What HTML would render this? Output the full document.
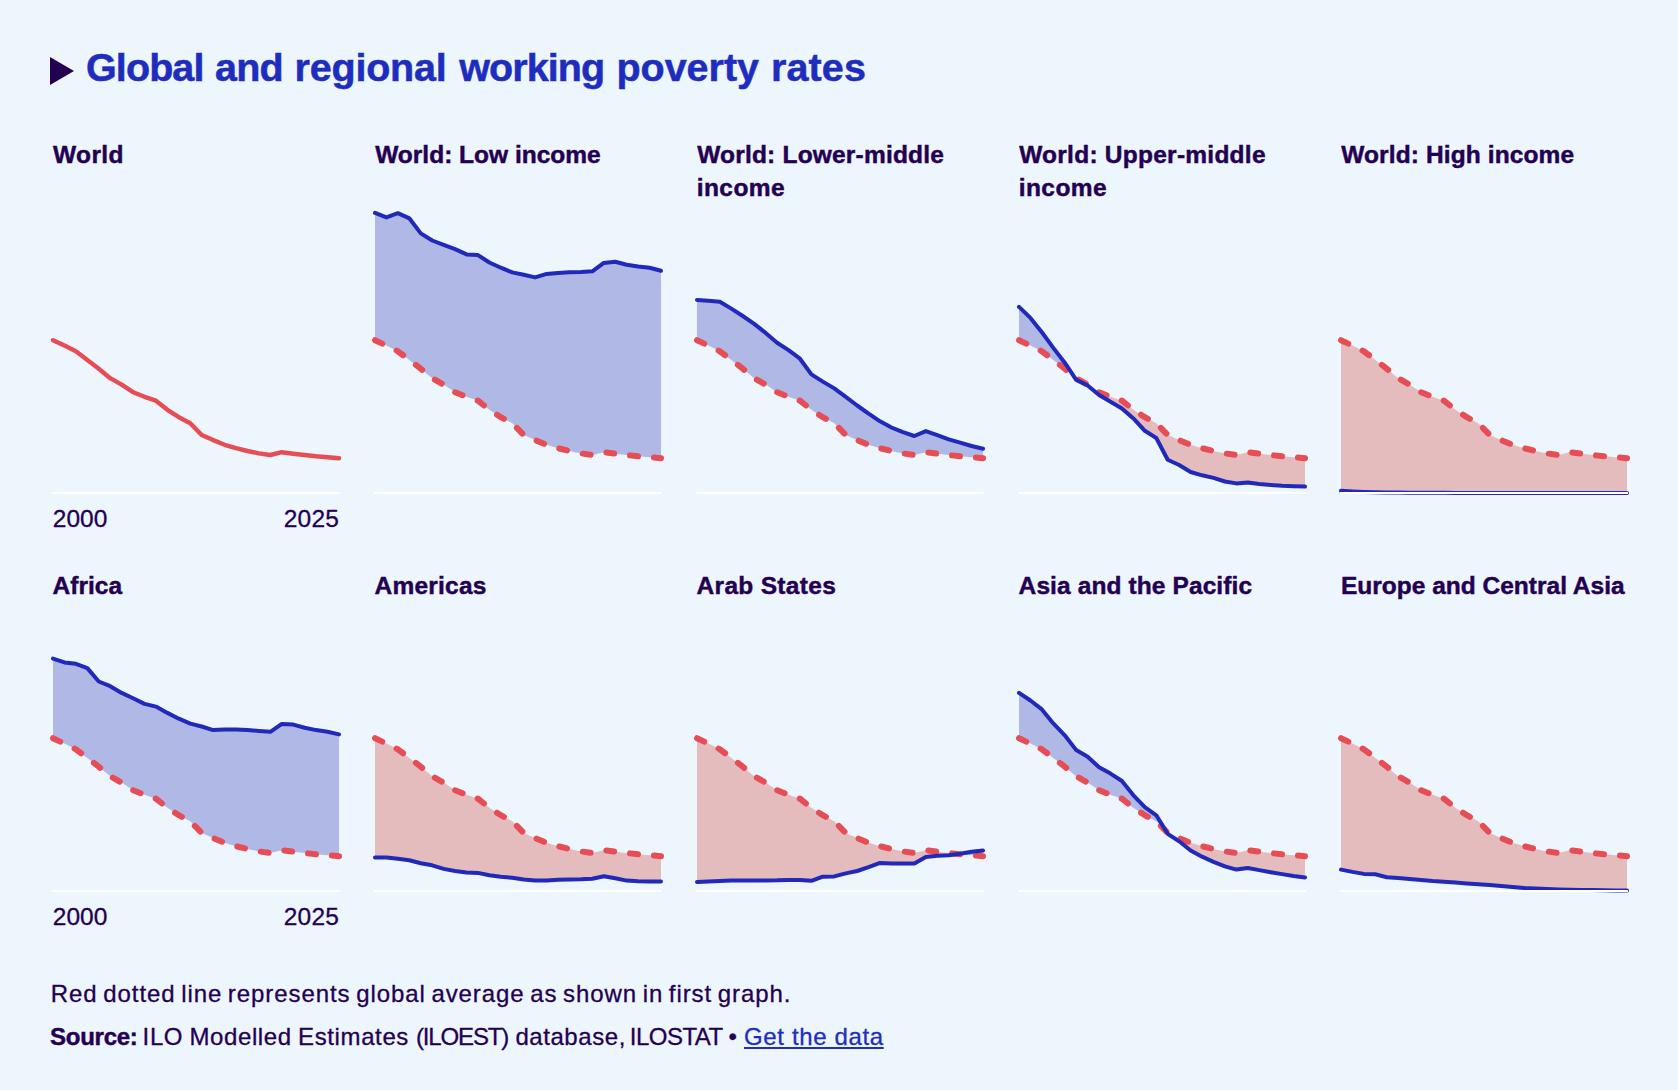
<!DOCTYPE html>
<html lang="en"><head><meta charset="utf-8"><title>Global and regional working poverty rates</title>
<style>
html,body{margin:0;padding:0;}
body{width:1678px;height:1090px;background:#EDF5FD;overflow:hidden;position:relative;font-family:"Liberation Sans",sans-serif;color:#230050;}
svg{position:absolute;left:0;top:0;}
.t{position:absolute;white-space:nowrap;line-height:1;}
a{color:#1E2DBE;text-decoration:underline;}
</style></head><body>
<svg width="1678" height="1090" viewBox="0 0 1678 1090">

<polygon points="50,57 50,85 74,71" fill="#230050"/>
<g>
<polyline points="53.00,340.20 64.44,345.60 75.88,351.30 87.32,359.90 98.76,368.70 110.20,378.20 121.64,384.60 133.08,392.20 144.52,396.80 155.96,400.70 167.40,409.80 178.84,417.20 190.28,423.20 201.72,435.00 213.16,440.10 224.60,444.80 236.04,448.20 247.48,451.00 258.92,453.40 270.36,455.00 281.80,452.20 293.24,453.70 304.68,455.00 316.12,456.30 327.56,457.20 339.00,458.20" fill="none" stroke="#E64D55" stroke-width="4.4" stroke-linecap="round" stroke-linejoin="round"/>
<rect x="52" y="492" width="288" height="2" fill="#ffffff"/>
</g>
<g>
<polygon points="375.00,212.90 386.44,217.40 397.88,213.20 409.32,218.30 420.76,233.40 432.20,240.50 443.64,244.80 455.08,249.10 466.52,254.40 477.96,255.10 489.40,262.50 500.84,267.70 512.28,272.40 523.72,274.80 535.16,277.40 546.60,273.90 558.04,272.90 569.48,272.30 580.92,272.00 592.36,271.30 603.80,262.90 615.24,261.70 626.68,264.80 638.12,266.40 649.56,267.70 661.00,270.70 661.00,458.20 649.56,457.20 638.12,456.30 626.68,455.00 615.24,453.70 603.80,452.20 592.36,455.00 580.92,453.40 569.48,451.00 558.04,448.20 546.60,444.80 535.16,440.10 523.72,435.00 512.28,423.20 500.84,417.20 489.40,409.80 477.96,400.70 466.52,396.80 455.08,392.20 443.64,384.60 432.20,378.20 420.76,368.70 409.32,359.90 397.88,351.30 386.44,345.60 375.00,340.20" fill="#B0B8E6"/>
<polyline points="375.00,340.20 386.44,345.60 397.88,351.30 409.32,359.90 420.76,368.70 432.20,378.20 443.64,384.60 455.08,392.20 466.52,396.80 477.96,400.70 489.40,409.80 500.84,417.20 512.28,423.20 523.72,435.00 535.16,440.10 546.60,444.80 558.04,448.20 569.48,451.00 580.92,453.40 592.36,455.00 603.80,452.20 615.24,453.70 626.68,455.00 638.12,456.30 649.56,457.20 661.00,458.20" fill="none" stroke="#E64D55" stroke-width="6" stroke-dasharray="8 16" stroke-linecap="round" stroke-linejoin="round"/>
<polyline points="375.00,212.90 386.44,217.40 397.88,213.20 409.32,218.30 420.76,233.40 432.20,240.50 443.64,244.80 455.08,249.10 466.52,254.40 477.96,255.10 489.40,262.50 500.84,267.70 512.28,272.40 523.72,274.80 535.16,277.40 546.60,273.90 558.04,272.90 569.48,272.30 580.92,272.00 592.36,271.30 603.80,262.90 615.24,261.70 626.68,264.80 638.12,266.40 649.56,267.70 661.00,270.70" fill="none" stroke="#2029B9" stroke-width="4" stroke-linecap="round" stroke-linejoin="round"/>
<rect x="374" y="492" width="288" height="2" fill="#ffffff"/>
</g>
<g>
<polygon points="697.00,300.00 708.44,300.80 719.88,301.70 731.32,308.60 742.76,316.00 754.20,323.90 765.64,332.90 777.08,342.70 788.52,350.10 799.96,358.70 811.40,374.40 822.84,381.60 834.28,388.40 845.72,396.90 857.16,405.50 868.60,413.60 880.04,421.30 891.48,427.50 902.92,432.20 914.36,436.00 925.80,431.10 937.24,435.10 948.68,439.40 960.12,442.70 971.56,446.00 983.00,448.70 983.00,458.20 971.56,457.20 960.12,456.30 948.68,455.00 937.24,453.70 925.80,452.20 914.36,455.00 902.92,453.40 891.48,451.00 880.04,448.20 868.60,444.80 857.16,440.10 845.72,435.00 834.28,423.20 822.84,417.20 811.40,409.80 799.96,400.70 788.52,396.80 777.08,392.20 765.64,384.60 754.20,378.20 742.76,368.70 731.32,359.90 719.88,351.30 708.44,345.60 697.00,340.20" fill="#B0B8E6"/>
<polyline points="697.00,340.20 708.44,345.60 719.88,351.30 731.32,359.90 742.76,368.70 754.20,378.20 765.64,384.60 777.08,392.20 788.52,396.80 799.96,400.70 811.40,409.80 822.84,417.20 834.28,423.20 845.72,435.00 857.16,440.10 868.60,444.80 880.04,448.20 891.48,451.00 902.92,453.40 914.36,455.00 925.80,452.20 937.24,453.70 948.68,455.00 960.12,456.30 971.56,457.20 983.00,458.20" fill="none" stroke="#E64D55" stroke-width="6" stroke-dasharray="8 16" stroke-linecap="round" stroke-linejoin="round"/>
<polyline points="697.00,300.00 708.44,300.80 719.88,301.70 731.32,308.60 742.76,316.00 754.20,323.90 765.64,332.90 777.08,342.70 788.52,350.10 799.96,358.70 811.40,374.40 822.84,381.60 834.28,388.40 845.72,396.90 857.16,405.50 868.60,413.60 880.04,421.30 891.48,427.50 902.92,432.20 914.36,436.00 925.80,431.10 937.24,435.10 948.68,439.40 960.12,442.70 971.56,446.00 983.00,448.70" fill="none" stroke="#2029B9" stroke-width="4" stroke-linecap="round" stroke-linejoin="round"/>
<rect x="696" y="492" width="288" height="2" fill="#ffffff"/>
</g>
<g>
<polygon points="1019.00,306.90 1030.44,317.90 1041.88,332.20 1053.32,347.90 1064.76,362.70 1073.67,376.10 1073.67,376.10 1064.76,368.70 1053.32,359.90 1041.88,351.30 1030.44,345.60 1019.00,340.20" fill="#B0B8E6"/>
<polygon points="1073.67,376.10 1076.20,379.90 1087.64,385.50 1099.08,395.00 1110.52,401.70 1121.96,408.40 1133.40,418.40 1144.84,430.80 1156.28,438.00 1167.72,459.80 1179.16,465.00 1190.60,472.00 1202.04,475.30 1213.48,477.90 1224.92,481.50 1236.36,483.40 1247.80,482.50 1259.24,483.90 1270.68,484.90 1282.12,485.80 1293.56,486.30 1305.00,486.60 1305.00,458.20 1293.56,457.20 1282.12,456.30 1270.68,455.00 1259.24,453.70 1247.80,452.20 1236.36,455.00 1224.92,453.40 1213.48,451.00 1202.04,448.20 1190.60,444.80 1179.16,440.10 1167.72,435.00 1156.28,423.20 1144.84,417.20 1133.40,409.80 1121.96,400.70 1110.52,396.80 1099.08,392.20 1087.64,384.60 1076.20,378.20 1073.67,376.10" fill="#E4BCBE"/>
<polyline points="1019.00,340.20 1030.44,345.60 1041.88,351.30 1053.32,359.90 1064.76,368.70 1076.20,378.20 1087.64,384.60 1099.08,392.20 1110.52,396.80 1121.96,400.70 1133.40,409.80 1144.84,417.20 1156.28,423.20 1167.72,435.00 1179.16,440.10 1190.60,444.80 1202.04,448.20 1213.48,451.00 1224.92,453.40 1236.36,455.00 1247.80,452.20 1259.24,453.70 1270.68,455.00 1282.12,456.30 1293.56,457.20 1305.00,458.20" fill="none" stroke="#E64D55" stroke-width="6" stroke-dasharray="8 16" stroke-linecap="round" stroke-linejoin="round"/>
<polyline points="1019.00,306.90 1030.44,317.90 1041.88,332.20 1053.32,347.90 1064.76,362.70 1076.20,379.90 1087.64,385.50 1099.08,395.00 1110.52,401.70 1121.96,408.40 1133.40,418.40 1144.84,430.80 1156.28,438.00 1167.72,459.80 1179.16,465.00 1190.60,472.00 1202.04,475.30 1213.48,477.90 1224.92,481.50 1236.36,483.40 1247.80,482.50 1259.24,483.90 1270.68,484.90 1282.12,485.80 1293.56,486.30 1305.00,486.60" fill="none" stroke="#2029B9" stroke-width="4" stroke-linecap="round" stroke-linejoin="round"/>
<rect x="1018" y="492" width="288" height="2" fill="#ffffff"/>
</g>
<g>
<polygon points="1341.00,490.80 1352.44,491.50 1363.88,492.00 1375.32,492.30 1386.76,492.50 1398.20,492.60 1409.64,492.70 1421.08,492.70 1432.52,492.80 1443.96,492.80 1455.40,492.90 1466.84,492.90 1478.28,492.90 1489.72,492.90 1501.16,493.00 1512.60,493.00 1524.04,493.00 1535.48,493.00 1546.92,493.00 1558.36,493.00 1569.80,493.00 1581.24,493.00 1592.68,493.00 1604.12,493.00 1615.56,493.00 1627.00,493.00 1627.00,458.20 1615.56,457.20 1604.12,456.30 1592.68,455.00 1581.24,453.70 1569.80,452.20 1558.36,455.00 1546.92,453.40 1535.48,451.00 1524.04,448.20 1512.60,444.80 1501.16,440.10 1489.72,435.00 1478.28,423.20 1466.84,417.20 1455.40,409.80 1443.96,400.70 1432.52,396.80 1421.08,392.20 1409.64,384.60 1398.20,378.20 1386.76,368.70 1375.32,359.90 1363.88,351.30 1352.44,345.60 1341.00,340.20" fill="#E4BCBE"/>
<polyline points="1341.00,340.20 1352.44,345.60 1363.88,351.30 1375.32,359.90 1386.76,368.70 1398.20,378.20 1409.64,384.60 1421.08,392.20 1432.52,396.80 1443.96,400.70 1455.40,409.80 1466.84,417.20 1478.28,423.20 1489.72,435.00 1501.16,440.10 1512.60,444.80 1524.04,448.20 1535.48,451.00 1546.92,453.40 1558.36,455.00 1569.80,452.20 1581.24,453.70 1592.68,455.00 1604.12,456.30 1615.56,457.20 1627.00,458.20" fill="none" stroke="#E64D55" stroke-width="6" stroke-dasharray="8 16" stroke-linecap="round" stroke-linejoin="round"/>
<polyline points="1341.00,490.80 1352.44,491.50 1363.88,492.00 1375.32,492.30 1386.76,492.50 1398.20,492.60 1409.64,492.70 1421.08,492.70 1432.52,492.80 1443.96,492.80 1455.40,492.90 1466.84,492.90 1478.28,492.90 1489.72,492.90 1501.16,493.00 1512.60,493.00 1524.04,493.00 1535.48,493.00 1546.92,493.00 1558.36,493.00 1569.80,493.00 1581.24,493.00 1592.68,493.00 1604.12,493.00 1615.56,493.00 1627.00,493.00" fill="none" stroke="#2029B9" stroke-width="4" stroke-linecap="round" stroke-linejoin="round"/>
<rect x="1340" y="492" width="288" height="2" fill="#ffffff"/>
</g>
<g>
<polygon points="53.00,658.60 64.44,662.40 75.88,663.80 87.32,668.10 98.76,681.50 110.20,686.20 121.64,692.90 133.08,698.20 144.52,703.90 155.96,706.60 167.40,712.90 178.84,718.70 190.28,723.60 201.72,726.50 213.16,730.10 224.60,729.60 236.04,729.40 247.48,730.10 258.92,731.00 270.36,731.80 281.80,723.90 293.24,724.60 304.68,727.70 316.12,730.10 327.56,731.80 339.00,734.40 339.00,856.20 327.56,855.20 316.12,854.30 304.68,853.00 293.24,851.70 281.80,850.20 270.36,853.00 258.92,851.40 247.48,849.00 236.04,846.20 224.60,842.80 213.16,838.10 201.72,833.00 190.28,821.20 178.84,815.20 167.40,807.80 155.96,798.70 144.52,794.80 133.08,790.20 121.64,782.60 110.20,776.20 98.76,766.70 87.32,757.90 75.88,749.30 64.44,743.60 53.00,738.20" fill="#B0B8E6"/>
<polyline points="53.00,738.20 64.44,743.60 75.88,749.30 87.32,757.90 98.76,766.70 110.20,776.20 121.64,782.60 133.08,790.20 144.52,794.80 155.96,798.70 167.40,807.80 178.84,815.20 190.28,821.20 201.72,833.00 213.16,838.10 224.60,842.80 236.04,846.20 247.48,849.00 258.92,851.40 270.36,853.00 281.80,850.20 293.24,851.70 304.68,853.00 316.12,854.30 327.56,855.20 339.00,856.20" fill="none" stroke="#E64D55" stroke-width="6" stroke-dasharray="8 16" stroke-linecap="round" stroke-linejoin="round"/>
<polyline points="53.00,658.60 64.44,662.40 75.88,663.80 87.32,668.10 98.76,681.50 110.20,686.20 121.64,692.90 133.08,698.20 144.52,703.90 155.96,706.60 167.40,712.90 178.84,718.70 190.28,723.60 201.72,726.50 213.16,730.10 224.60,729.60 236.04,729.40 247.48,730.10 258.92,731.00 270.36,731.80 281.80,723.90 293.24,724.60 304.68,727.70 316.12,730.10 327.56,731.80 339.00,734.40" fill="none" stroke="#2029B9" stroke-width="4" stroke-linecap="round" stroke-linejoin="round"/>
<rect x="52" y="890" width="288" height="2" fill="#ffffff"/>
</g>
<g>
<polygon points="375.00,857.40 386.44,857.40 397.88,858.80 409.32,860.30 420.76,863.20 432.20,865.30 443.64,868.90 455.08,871.00 466.52,872.50 477.96,872.90 489.40,875.30 500.84,876.70 512.28,877.80 523.72,879.60 535.16,880.40 546.60,880.60 558.04,879.80 569.48,879.40 580.92,879.30 592.36,878.80 603.80,876.30 615.24,878.20 626.68,880.60 638.12,881.20 649.56,881.50 661.00,881.50 661.00,856.20 649.56,855.20 638.12,854.30 626.68,853.00 615.24,851.70 603.80,850.20 592.36,853.00 580.92,851.40 569.48,849.00 558.04,846.20 546.60,842.80 535.16,838.10 523.72,833.00 512.28,821.20 500.84,815.20 489.40,807.80 477.96,798.70 466.52,794.80 455.08,790.20 443.64,782.60 432.20,776.20 420.76,766.70 409.32,757.90 397.88,749.30 386.44,743.60 375.00,738.20" fill="#E4BCBE"/>
<polyline points="375.00,738.20 386.44,743.60 397.88,749.30 409.32,757.90 420.76,766.70 432.20,776.20 443.64,782.60 455.08,790.20 466.52,794.80 477.96,798.70 489.40,807.80 500.84,815.20 512.28,821.20 523.72,833.00 535.16,838.10 546.60,842.80 558.04,846.20 569.48,849.00 580.92,851.40 592.36,853.00 603.80,850.20 615.24,851.70 626.68,853.00 638.12,854.30 649.56,855.20 661.00,856.20" fill="none" stroke="#E64D55" stroke-width="6" stroke-dasharray="8 16" stroke-linecap="round" stroke-linejoin="round"/>
<polyline points="375.00,857.40 386.44,857.40 397.88,858.80 409.32,860.30 420.76,863.20 432.20,865.30 443.64,868.90 455.08,871.00 466.52,872.50 477.96,872.90 489.40,875.30 500.84,876.70 512.28,877.80 523.72,879.60 535.16,880.40 546.60,880.60 558.04,879.80 569.48,879.40 580.92,879.30 592.36,878.80 603.80,876.30 615.24,878.20 626.68,880.60 638.12,881.20 649.56,881.50 661.00,881.50" fill="none" stroke="#2029B9" stroke-width="4" stroke-linecap="round" stroke-linejoin="round"/>
<rect x="374" y="890" width="288" height="2" fill="#ffffff"/>
</g>
<g>
<polygon points="957.75,854.03 960.12,853.70 971.56,851.80 983.00,850.50 983.00,856.20 971.56,855.20 960.12,854.30 957.75,854.03" fill="#B0B8E6"/>
<polygon points="697.00,882.00 708.44,881.50 719.88,881.00 731.32,880.60 742.76,880.40 754.20,880.40 765.64,880.40 777.08,880.30 788.52,879.90 799.96,880.10 811.40,880.80 822.84,876.70 834.28,876.40 845.72,873.40 857.16,871.00 868.60,867.20 880.04,862.90 891.48,863.40 902.92,863.60 914.36,863.60 925.80,856.90 937.24,855.80 948.68,855.30 957.75,854.03 957.75,854.03 948.68,853.00 937.24,851.70 925.80,850.20 914.36,853.00 902.92,851.40 891.48,849.00 880.04,846.20 868.60,842.80 857.16,838.10 845.72,833.00 834.28,821.20 822.84,815.20 811.40,807.80 799.96,798.70 788.52,794.80 777.08,790.20 765.64,782.60 754.20,776.20 742.76,766.70 731.32,757.90 719.88,749.30 708.44,743.60 697.00,738.20" fill="#E4BCBE"/>
<polyline points="697.00,738.20 708.44,743.60 719.88,749.30 731.32,757.90 742.76,766.70 754.20,776.20 765.64,782.60 777.08,790.20 788.52,794.80 799.96,798.70 811.40,807.80 822.84,815.20 834.28,821.20 845.72,833.00 857.16,838.10 868.60,842.80 880.04,846.20 891.48,849.00 902.92,851.40 914.36,853.00 925.80,850.20 937.24,851.70 948.68,853.00 960.12,854.30 971.56,855.20 983.00,856.20" fill="none" stroke="#E64D55" stroke-width="6" stroke-dasharray="8 16" stroke-linecap="round" stroke-linejoin="round"/>
<polyline points="697.00,882.00 708.44,881.50 719.88,881.00 731.32,880.60 742.76,880.40 754.20,880.40 765.64,880.40 777.08,880.30 788.52,879.90 799.96,880.10 811.40,880.80 822.84,876.70 834.28,876.40 845.72,873.40 857.16,871.00 868.60,867.20 880.04,862.90 891.48,863.40 902.92,863.60 914.36,863.60 925.80,856.90 937.24,855.80 948.68,855.30 960.12,853.70 971.56,851.80 983.00,850.50" fill="none" stroke="#2029B9" stroke-width="4" stroke-linecap="round" stroke-linejoin="round"/>
<rect x="696" y="890" width="288" height="2" fill="#ffffff"/>
</g>
<g>
<polygon points="1019.00,692.90 1030.44,700.50 1041.88,709.40 1053.32,723.40 1064.76,735.30 1076.20,750.10 1087.64,756.80 1099.08,767.20 1110.52,773.60 1121.96,781.00 1133.40,795.30 1144.84,807.20 1156.28,815.30 1166.35,831.59 1166.35,831.59 1156.28,821.20 1144.84,815.20 1133.40,807.80 1121.96,798.70 1110.52,794.80 1099.08,790.20 1087.64,782.60 1076.20,776.20 1064.76,766.70 1053.32,757.90 1041.88,749.30 1030.44,743.60 1019.00,738.20" fill="#B0B8E6"/>
<polygon points="1166.35,831.59 1167.72,833.80 1179.16,841.30 1190.60,850.50 1202.04,856.70 1213.48,861.80 1224.92,866.30 1236.36,869.60 1247.80,868.00 1259.24,870.10 1270.68,872.20 1282.12,874.10 1293.56,876.00 1305.00,877.50 1305.00,856.20 1293.56,855.20 1282.12,854.30 1270.68,853.00 1259.24,851.70 1247.80,850.20 1236.36,853.00 1224.92,851.40 1213.48,849.00 1202.04,846.20 1190.60,842.80 1179.16,838.10 1167.72,833.00 1166.35,831.59" fill="#E4BCBE"/>
<polyline points="1019.00,738.20 1030.44,743.60 1041.88,749.30 1053.32,757.90 1064.76,766.70 1076.20,776.20 1087.64,782.60 1099.08,790.20 1110.52,794.80 1121.96,798.70 1133.40,807.80 1144.84,815.20 1156.28,821.20 1167.72,833.00 1179.16,838.10 1190.60,842.80 1202.04,846.20 1213.48,849.00 1224.92,851.40 1236.36,853.00 1247.80,850.20 1259.24,851.70 1270.68,853.00 1282.12,854.30 1293.56,855.20 1305.00,856.20" fill="none" stroke="#E64D55" stroke-width="6" stroke-dasharray="8 16" stroke-linecap="round" stroke-linejoin="round"/>
<polyline points="1019.00,692.90 1030.44,700.50 1041.88,709.40 1053.32,723.40 1064.76,735.30 1076.20,750.10 1087.64,756.80 1099.08,767.20 1110.52,773.60 1121.96,781.00 1133.40,795.30 1144.84,807.20 1156.28,815.30 1167.72,833.80 1179.16,841.30 1190.60,850.50 1202.04,856.70 1213.48,861.80 1224.92,866.30 1236.36,869.60 1247.80,868.00 1259.24,870.10 1270.68,872.20 1282.12,874.10 1293.56,876.00 1305.00,877.50" fill="none" stroke="#2029B9" stroke-width="4" stroke-linecap="round" stroke-linejoin="round"/>
<rect x="1018" y="890" width="288" height="2" fill="#ffffff"/>
</g>
<g>
<polygon points="1341.00,869.60 1352.44,871.90 1363.88,873.90 1375.32,874.30 1386.76,877.20 1398.20,878.10 1409.64,879.10 1421.08,880.00 1432.52,881.00 1443.96,881.70 1455.40,882.40 1466.84,883.40 1478.28,884.30 1489.72,885.00 1501.16,886.10 1512.60,887.00 1524.04,887.90 1535.48,888.40 1546.92,889.00 1558.36,889.40 1569.80,889.70 1581.24,889.90 1592.68,890.10 1604.12,890.30 1615.56,890.50 1627.00,890.50 1627.00,856.20 1615.56,855.20 1604.12,854.30 1592.68,853.00 1581.24,851.70 1569.80,850.20 1558.36,853.00 1546.92,851.40 1535.48,849.00 1524.04,846.20 1512.60,842.80 1501.16,838.10 1489.72,833.00 1478.28,821.20 1466.84,815.20 1455.40,807.80 1443.96,798.70 1432.52,794.80 1421.08,790.20 1409.64,782.60 1398.20,776.20 1386.76,766.70 1375.32,757.90 1363.88,749.30 1352.44,743.60 1341.00,738.20" fill="#E4BCBE"/>
<polyline points="1341.00,738.20 1352.44,743.60 1363.88,749.30 1375.32,757.90 1386.76,766.70 1398.20,776.20 1409.64,782.60 1421.08,790.20 1432.52,794.80 1443.96,798.70 1455.40,807.80 1466.84,815.20 1478.28,821.20 1489.72,833.00 1501.16,838.10 1512.60,842.80 1524.04,846.20 1535.48,849.00 1546.92,851.40 1558.36,853.00 1569.80,850.20 1581.24,851.70 1592.68,853.00 1604.12,854.30 1615.56,855.20 1627.00,856.20" fill="none" stroke="#E64D55" stroke-width="6" stroke-dasharray="8 16" stroke-linecap="round" stroke-linejoin="round"/>
<polyline points="1341.00,869.60 1352.44,871.90 1363.88,873.90 1375.32,874.30 1386.76,877.20 1398.20,878.10 1409.64,879.10 1421.08,880.00 1432.52,881.00 1443.96,881.70 1455.40,882.40 1466.84,883.40 1478.28,884.30 1489.72,885.00 1501.16,886.10 1512.60,887.00 1524.04,887.90 1535.48,888.40 1546.92,889.00 1558.36,889.40 1569.80,889.70 1581.24,889.90 1592.68,890.10 1604.12,890.30 1615.56,890.50 1627.00,890.50" fill="none" stroke="#2029B9" stroke-width="4" stroke-linecap="round" stroke-linejoin="round"/>
<rect x="1340" y="890" width="288" height="2" fill="#ffffff"/>
</g>
</svg>
<div class="t" style="left:86.0px;top:47.6px;font-size:39.5px;letter-spacing:-0.900px;font-weight:bold;color:#1E2DBE;-webkit-text-stroke:0.5px;">Global</div>
<div class="t" style="left:215.0px;top:47.6px;font-size:39.5px;letter-spacing:-0.750px;font-weight:bold;color:#1E2DBE;-webkit-text-stroke:0.5px;">and</div>
<div class="t" style="left:294.6px;top:47.6px;font-size:39.5px;letter-spacing:-0.215px;font-weight:bold;color:#1E2DBE;-webkit-text-stroke:0.5px;">regional</div>
<div class="t" style="left:459.2px;top:47.6px;font-size:39.5px;letter-spacing:-0.917px;font-weight:bold;color:#1E2DBE;-webkit-text-stroke:0.5px;">working</div>
<div class="t" style="left:616.4px;top:47.6px;font-size:39.5px;font-weight:bold;color:#1E2DBE;-webkit-text-stroke:0.5px;">poverty</div>
<div class="t" style="left:771.0px;top:47.6px;font-size:39.5px;letter-spacing:0.125px;font-weight:bold;color:#1E2DBE;-webkit-text-stroke:0.5px;">rates</div>
<div class="t" style="left:53.0px;top:142.5px;font-size:24.5px;letter-spacing:0.375px;font-weight:bold;-webkit-text-stroke:0.45px;">World</div>
<div class="t" style="left:375.2px;top:142.5px;font-size:24.5px;letter-spacing:-0.001px;font-weight:bold;-webkit-text-stroke:0.45px;">World: Low income</div>
<div class="t" style="left:697.2px;top:142.5px;font-size:24.5px;letter-spacing:0.195px;font-weight:bold;-webkit-text-stroke:0.45px;">World: Lower-middle</div>
<div class="t" style="left:696.8px;top:175.5px;font-size:24.5px;letter-spacing:0.400px;font-weight:bold;-webkit-text-stroke:0.45px;">income</div>
<div class="t" style="left:1019.2px;top:142.5px;font-size:24.5px;letter-spacing:0.251px;font-weight:bold;-webkit-text-stroke:0.45px;">World: Upper-middle</div>
<div class="t" style="left:1018.8px;top:175.5px;font-size:24.5px;letter-spacing:0.400px;font-weight:bold;-webkit-text-stroke:0.45px;">income</div>
<div class="t" style="left:1341.2px;top:142.5px;font-size:24.5px;letter-spacing:0.117px;font-weight:bold;-webkit-text-stroke:0.45px;">World: High income</div>
<div class="t" style="left:52.6px;top:574.0px;font-size:24.5px;font-weight:bold;-webkit-text-stroke:0.45px;">Africa</div>
<div class="t" style="left:374.6px;top:574.0px;font-size:24.5px;letter-spacing:0.213px;font-weight:bold;-webkit-text-stroke:0.45px;">Americas</div>
<div class="t" style="left:696.6px;top:574.0px;font-size:24.5px;letter-spacing:0.300px;font-weight:bold;-webkit-text-stroke:0.45px;">Arab States</div>
<div class="t" style="left:1018.6px;top:574.0px;font-size:24.5px;letter-spacing:0.106px;font-weight:bold;-webkit-text-stroke:0.45px;">Asia and the Pacific</div>
<div class="t" style="left:1341.0px;top:574.0px;font-size:24.5px;letter-spacing:-0.001px;font-weight:bold;-webkit-text-stroke:0.45px;">Europe and Central Asia</div>
<div class="t" style="left:52.8px;top:506.5px;font-size:24.5px;letter-spacing:0.016px;-webkit-text-stroke:0.3px;">2000</div>
<div class="t" style="left:283.8px;top:506.5px;font-size:24.5px;letter-spacing:0.183px;-webkit-text-stroke:0.3px;">2025</div>
<div class="t" style="left:52.8px;top:904.5px;font-size:24.5px;letter-spacing:0.016px;-webkit-text-stroke:0.3px;">2000</div>
<div class="t" style="left:283.8px;top:904.5px;font-size:24.5px;letter-spacing:0.183px;-webkit-text-stroke:0.3px;">2025</div>
<div class="t" style="left:50.8px;top:981.5px;font-size:24px;letter-spacing:0.932px;-webkit-text-stroke:0.3px;word-spacing:-2px;">Red dotted line represents global average as shown in first graph.</div>
<div class="t" style="left:50.0px;top:1024.8px;font-size:24px;letter-spacing:-0.250px;font-weight:bold;-webkit-text-stroke:0.45px;">Source:</div>
<div class="t" style="left:142.6px;top:1024.8px;font-size:24px;letter-spacing:0.618px;-webkit-text-stroke:0.3px;word-spacing:-1px;">ILO Modelled Estimates</div>
<div class="t" style="left:416.0px;top:1024.8px;font-size:24px;letter-spacing:-1.143px;-webkit-text-stroke:0.3px;">(ILOEST)</div>
<div class="t" style="left:515.4px;top:1024.8px;font-size:24px;letter-spacing:0.562px;-webkit-text-stroke:0.3px;">database,</div>
<div class="t" style="left:629.8px;top:1024.8px;font-size:24px;letter-spacing:-0.500px;-webkit-text-stroke:0.3px;">ILOSTAT •</div>
<div class="t" style="left:744.0px;top:1024.8px;font-size:24px;letter-spacing:0.636px;color:#1E2DBE;-webkit-text-stroke:0.3px;"><a>Get the data</a></div>
</body></html>
